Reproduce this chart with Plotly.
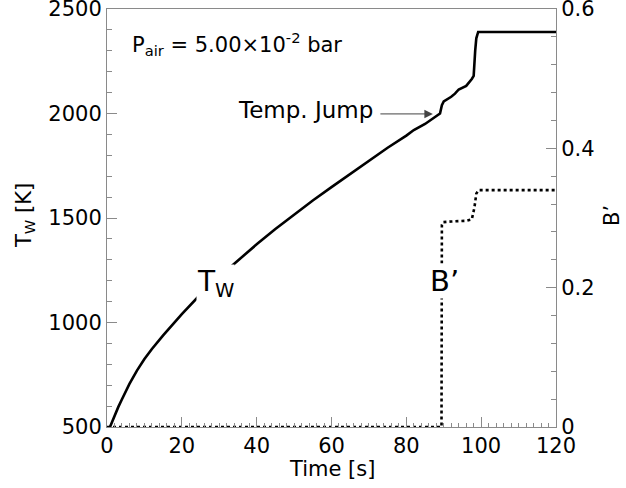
import plotly.graph_objects as go

# Wall temperature T_W [K] vs time [s]
t_w = [0.8, 1.5, 2, 3, 4, 5, 6, 8, 10, 12, 15, 20, 25, 30, 35, 40, 45, 50,
       55, 60, 65, 70, 75, 80, 82, 85, 87, 88.5, 89, 89.5, 90, 92, 93, 94, 96,
       97.5, 98, 98.4, 98.7, 99.2, 120]
T_w = [500, 533, 555, 595, 633, 670, 706, 770, 825, 873, 938, 1040, 1135,
       1219, 1298, 1374, 1447, 1517, 1584, 1648, 1712, 1775, 1836, 1894, 1921,
       1950, 1975, 1992, 2000, 2040, 2058, 2080, 2095, 2115, 2132, 2165, 2180,
       2300, 2360, 2390, 2390]

# Blowing parameter B' vs time [s]
t_b = [0, 89.4, 89.5, 89.8, 92, 96, 97.5, 98.2, 98.7, 99.3, 120]
B_b = [0, 0, 0.29, 0.294, 0.295, 0.296, 0.298, 0.315, 0.335, 0.340, 0.340]

x_ticks = [0, 20, 40, 60, 80, 100, 120]
y_ticks = [500, 1000, 1500, 2000, 2500]
y2_ticks = [0, 0.2, 0.4, 0.6]
y2_text = ["0", "0.2", "0.4", "0.6"]

FONT = "DejaVu Sans, Liberation Sans, Arial, sans-serif"
GREY = "#8a8a8a"

# plot area in pixels
L, R, T, B = 107, 556, 9, 427
W, H = R - L, B - T


def px(x):
    return (x - L) / W


def py(y):
    return (B - y) / H


fig = go.Figure()
fig.add_trace(go.Scatter(x=t_w, y=T_w, mode="lines",
                         line=dict(color="black", width=2.6),
                         showlegend=False))
fig.add_trace(go.Scatter(x=t_b, y=B_b, mode="lines", yaxis="y2",
                         line=dict(color="black", width=2.6, dash="dot"),
                         showlegend=False))

common = dict(ticks="inside", ticklen=10, tickcolor=GREY, showline=True,
              linecolor=GREY, linewidth=1, showgrid=False, zeroline=False,
              ticklabeloverflow="allow", automargin=False,
              tickfont=dict(size=21))

fig.update_layout(
    width=626, height=488,
    margin=dict(l=L, r=626 - R, t=T, b=488 - B, autoexpand=False),
    paper_bgcolor="white", plot_bgcolor="white",
    font=dict(family=FONT, size=21, color="black"),
    xaxis=dict(range=[0, 120], tickvals=x_ticks, mirror=True,
               minor=dict(dtick=2, ticks="inside", ticklen=4, tickcolor=GREY),
               **common),
    yaxis=dict(range=[500, 2500], tickvals=y_ticks,
               minor=dict(dtick=100, ticks="inside", ticklen=5, tickcolor=GREY),
               **common),
    yaxis2=dict(range=[0, 0.6], tickvals=y2_ticks, ticktext=y2_text,
                overlaying="y", side="right",
                minor=dict(dtick=0.04, ticks="inside", ticklen=5, tickcolor=GREY),
                **common),
)

# axis titles
fig.add_annotation(xref="paper", yref="paper", x=px(332), y=py(469),
                   xanchor="center", yanchor="middle", showarrow=False,
                   text="Time [s]", font=dict(size=21))
fig.add_annotation(xref="paper", yref="paper", x=px(25), y=py(216),
                   xanchor="center", yanchor="middle", showarrow=False,
                   textangle=-90, text="T<sub>W</sub> [K]", font=dict(size=21))
fig.add_annotation(xref="paper", yref="paper", x=px(612), y=py(216),
                   xanchor="center", yanchor="middle", showarrow=False,
                   textangle=-90, text="B’", font=dict(size=21))

# P_air text
fig.add_annotation(xref="paper", yref="paper", x=px(130), y=py(44),
                   xanchor="left", yanchor="middle", showarrow=False,
                   text="P<sub>air</sub> = 5.00×10<sup>-2</sup> bar",
                   font=dict(size=21))
# Temp. Jump text
fig.add_annotation(xref="paper", yref="paper", x=px(375), y=py(110),
                   xanchor="right", yanchor="middle", showarrow=False,
                   text="Temp. Jump", font=dict(size=23))
# arrow
fig.add_annotation(x=87.1, y=1998, xref="x", yref="y", text="",
                   showarrow=True, ax=-54, ay=0, axref="pixel", ayref="pixel",
                   arrowhead=2, arrowsize=1.7, arrowwidth=1, arrowcolor="#444")
# T_W label
fig.add_annotation(xref="paper", yref="paper", x=px(196), y=py(283),
                   xanchor="left", yanchor="middle", showarrow=False,
                   bgcolor="white", borderpad=0,
                   text="T<sub>W</sub>", font=dict(size=28))
# B' label
fig.add_annotation(xref="paper", yref="paper", x=px(444), y=py(281),
                   xanchor="center", yanchor="middle", showarrow=False,
                   bgcolor="white", borderpad=0,
                   text="B’", font=dict(size=29))

fig.write_html("out.html")
